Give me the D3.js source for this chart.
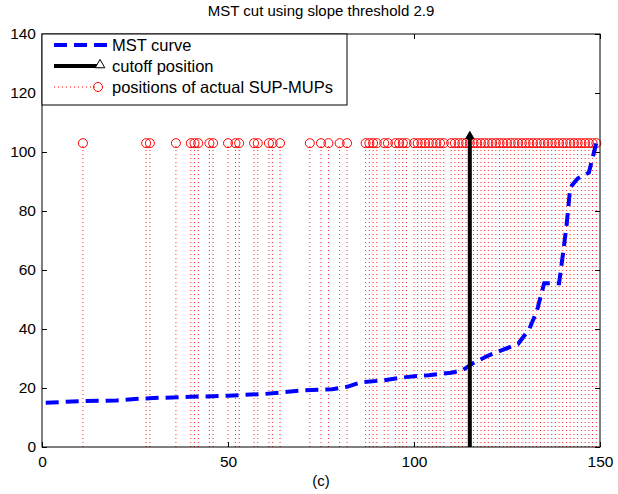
<!DOCTYPE html>
<html>
<head>
<meta charset="utf-8">
<script src="https://cdn.jsdelivr.net/npm/d3@7"></script>
<style>
  html, body { margin: 0; padding: 0; background: #fff; }
  svg { display: block; font-family: Arial, "Liberation Sans", Helvetica, sans-serif; }
</style>
</head>
<body>
<svg id="chart" width="618" height="494"></svg>
<script>
// MST curve: breakpoints (index, merge distance)
const curveX = [1, 10, 20, 25, 30, 40, 50, 60, 65, 70, 78, 82, 86, 92, 96, 100, 104, 110, 113, 116, 120, 124, 128, 131, 133, 135, 139, 140, 141, 142, 144, 147, 149];
const curveY = [15, 15.5, 15.8, 16.3, 16.6, 17, 17.4, 18, 18.6, 19.2, 19.6, 20.4, 22, 22.6, 23.4, 24, 24.3, 25.2, 26, 28.5, 31, 33, 35, 40, 46, 55.5, 55.5, 65, 75, 88, 91, 93, 103];

// Indices of actual SUP-MUPs along the MST ordering
const supPositions = [11, 28, 29, 36, 40, 41, 42, 45, 46, 50, 52, 53, 57, 58, 61, 62, 64, 72, 75, 77, 80, 82,
  87, 88, 89, 90, 92, 93, 95, 96, 97, 98, 100, 101, 102, 103, 104, 105, 106, 107, 108, 110, 111, 112, 113, 114, 115,
  116, 117, 118, 119, 120, 121, 122, 123, 124, 125, 126, 127, 128, 129, 130, 131, 132, 133, 134, 135, 136, 137, 138,
  139, 140, 141, 142, 143, 144, 145, 146, 147, 148, 149];
const supLevel = 103;

const cutoffX = 115;
const cutoffTop = 105;

const xTicks = [0, 50, 100, 150];
const yTicks = [0, 20, 40, 60, 80, 100, 120, 140];

const titleText = "MST cut using slope threshold 2.9";
const xLabelText = "(c)";
const legendLabels = ["MST curve", "cutoff position", "positions of actual SUP-MUPs"];

const svg = d3.select("#chart");
const m = { left: 42, right: 600, top: 34, bottom: 447 };

const x = d3.scaleLinear().domain([0, 150]).range([m.left, m.right]);
const y = d3.scaleLinear().domain([0, 140]).range([m.bottom, m.top]);

svg.append("rect").attr("width", 618).attr("height", 494).attr("fill", "#fff");

const plot = svg.append("g");

// red dotted stems with circle markers
plot.selectAll("line.sup").data(supPositions).enter().append("line")
  .attr("class", "sup")
  .attr("x1", d => x(d)).attr("x2", d => x(d))
  .attr("y1", y(0)).attr("y2", y(supLevel))
  .attr("stroke", "#ff0000").attr("stroke-width", 1)
  .attr("stroke-dasharray", "1,3").attr("opacity", 0.85);

plot.selectAll("circle.sup").data(supPositions).enter().append("circle")
  .attr("class", "sup")
  .attr("cx", d => x(d)).attr("cy", y(supLevel)).attr("r", 4.5)
  .attr("fill", "none").attr("stroke", "#ff0000").attr("stroke-width", 1);

// MST curve
const line = d3.line().x(d => x(d[0])).y(d => y(d[1]));
plot.append("path")
  .datum(curveX.map((v, i) => [v, curveY[i]]))
  .attr("d", line)
  .attr("fill", "none").attr("stroke", "#0000ff").attr("stroke-width", 4)
  .attr("stroke-dasharray", "13,7");

// cutoff position
plot.append("line")
  .attr("x1", x(cutoffX)).attr("x2", x(cutoffX))
  .attr("y1", y(0)).attr("y2", y(cutoffTop))
  .attr("stroke", "#000").attr("stroke-width", 4);
plot.append("path")
  .attr("d", d3.symbol().type(d3.symbolTriangle).size(30)())
  .attr("transform", `translate(${x(cutoffX)},${y(cutoffTop) - 1})`)
  .attr("fill", "#000").attr("stroke", "#000").attr("stroke-width", 1);

// axes
const xAxis = d3.axisBottom(x).tickValues(xTicks).tickSize(-5).tickPadding(9);
const yAxis = d3.axisLeft(y).tickValues(yTicks).tickSize(-5).tickPadding(6);

const gx = svg.append("g").attr("transform", `translate(0,${m.bottom})`).call(xAxis);
const gy = svg.append("g").attr("transform", `translate(${m.left},0)`).call(yAxis);
[gx, gy].forEach(g => {
  g.select(".domain").remove();
  g.selectAll("text").attr("font-size", 15.5).attr("fill", "#000")
    .attr("font-family", "Arial, 'Liberation Sans', sans-serif");
  g.selectAll("line").attr("stroke", "#000");
});
// top/right ticks of the box
svg.append("g").attr("transform", `translate(0,${m.top})`)
  .call(d3.axisTop(x).tickValues(xTicks).tickSize(-5).tickFormat(""))
  .call(g => g.select(".domain").remove());
svg.append("g").attr("transform", `translate(${m.right},0)`)
  .call(d3.axisRight(y).tickValues(yTicks).tickSize(-5).tickFormat(""))
  .call(g => g.select(".domain").remove());

svg.append("rect")
  .attr("x", m.left).attr("y", m.top)
  .attr("width", m.right - m.left).attr("height", m.bottom - m.top)
  .attr("fill", "none").attr("stroke", "#000").attr("stroke-width", 1);

// title and x label
svg.append("text").attr("x", (m.left + m.right) / 2).attr("y", 16)
  .attr("text-anchor", "middle").attr("font-size", 15).text(titleText);
svg.append("text").attr("x", (m.left + m.right) / 2).attr("y", 486)
  .attr("text-anchor", "middle").attr("font-size", 15).text(xLabelText);

// legend
const lg = svg.append("g");
const lgW = 305, lgH = 71;
lg.append("rect").attr("x", m.left).attr("y", m.top).attr("width", lgW).attr("height", lgH)
  .attr("fill", "#fff").attr("stroke", "#000").attr("stroke-width", 1);
const rowY = [m.top + 11, m.top + 32, m.top + 53];
const sx0 = m.left + 12, sx1 = m.left + 66;

lg.append("line").attr("x1", sx0).attr("x2", sx1).attr("y1", rowY[0]).attr("y2", rowY[0])
  .attr("stroke", "#0000ff").attr("stroke-width", 4).attr("stroke-dasharray", "13,7");
lg.append("line").attr("x1", sx0).attr("x2", sx1 - 8).attr("y1", rowY[1]).attr("y2", rowY[1])
  .attr("stroke", "#000").attr("stroke-width", 4);
lg.append("path").attr("d", d3.symbol().type(d3.symbolTriangle).size(40)())
  .attr("transform", `translate(${sx1 - 8},${rowY[1] - 1})`)
  .attr("fill", "#fff").attr("stroke", "#000");
lg.append("line").attr("x1", sx0).attr("x2", sx1 - 10).attr("y1", rowY[2]).attr("y2", rowY[2])
  .attr("stroke", "#ff0000").attr("stroke-width", 1).attr("stroke-dasharray", "1,3");
lg.append("circle").attr("cx", sx1 - 10).attr("cy", rowY[2]).attr("r", 4.5)
  .attr("fill", "none").attr("stroke", "#ff0000");

legendLabels.forEach((t, i) => {
  lg.append("text").attr("x", m.left + 70).attr("y", rowY[i]).attr("dy", "0.35em")
    .attr("font-size", 16.5).text(t);
});
</script>
</body>
</html>
